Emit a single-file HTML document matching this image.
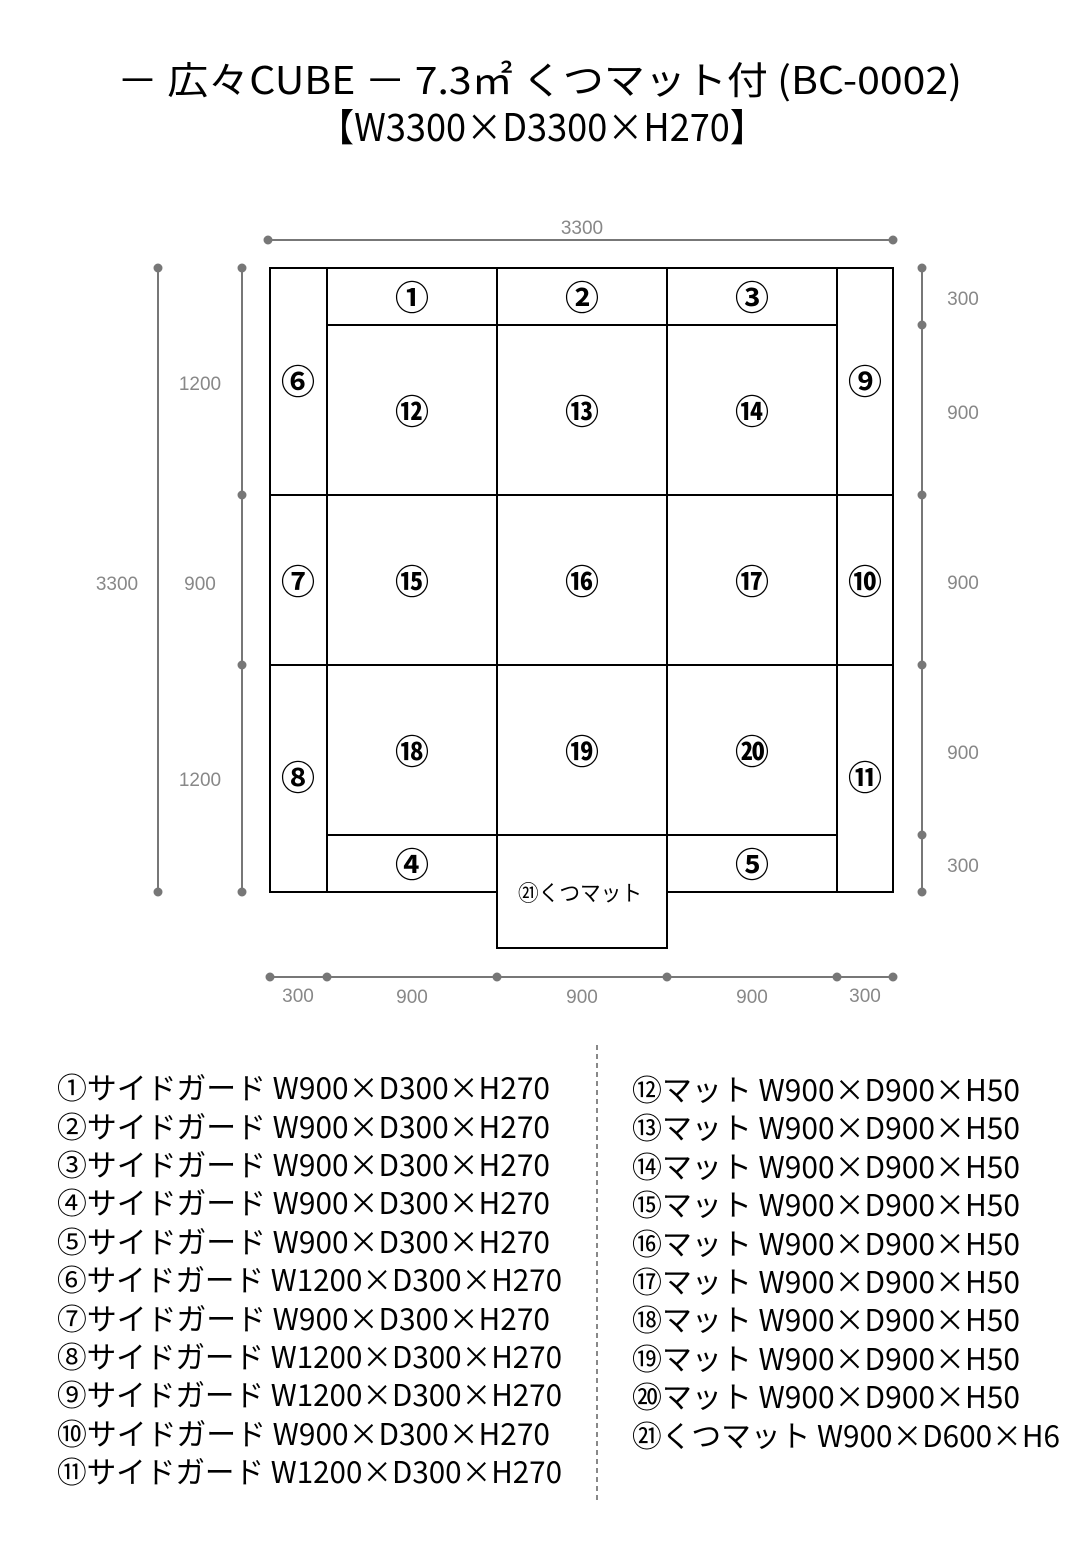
<!DOCTYPE html>
<html><head><meta charset="utf-8"><style>
html,body{margin:0;padding:0;background:#fff}
svg{display:block}
.t{font-family:"Liberation Sans","Noto Sans CJK JP",sans-serif}
</style></head><body>
<svg width="1080" height="1560" viewBox="0 0 1080 1560" xmlns="http://www.w3.org/2000/svg" class="t">
<g fill="#000" font-family="Noto Sans CJK JP, sans-serif">
<text x="117" y="94" font-size="38" textLength="845" lengthAdjust="spacingAndGlyphs">－ 広々CUBE － 7.3㎡ くつマット付 (BC-0002)</text>
<text x="318" y="141" font-size="38" textLength="448" lengthAdjust="spacingAndGlyphs">【W3300×D3300×H270】</text>
</g>
<g stroke="#777" stroke-width="2" fill="#777">
<line x1="268" y1="240" x2="893" y2="240"/><circle cx="268" cy="240" r="3.5"/><circle cx="893" cy="240" r="3.5"/>
<line x1="158" y1="268" x2="158" y2="892"/><circle cx="158" cy="268" r="3.5"/><circle cx="158" cy="892" r="3.5"/>
<line x1="242" y1="268" x2="242" y2="892"/>
<circle cx="242" cy="268" r="3.5"/><circle cx="242" cy="495" r="3.5"/><circle cx="242" cy="665" r="3.5"/><circle cx="242" cy="892" r="3.5"/>
<line x1="922" y1="268" x2="922" y2="892"/>
<circle cx="922" cy="268" r="3.5"/><circle cx="922" cy="325" r="3.5"/><circle cx="922" cy="495" r="3.5"/><circle cx="922" cy="665" r="3.5"/><circle cx="922" cy="835" r="3.5"/><circle cx="922" cy="892" r="3.5"/>
<line x1="270" y1="977" x2="893" y2="977"/>
<circle cx="270" cy="977" r="3.5"/><circle cx="327" cy="977" r="3.5"/><circle cx="497" cy="977" r="3.5"/><circle cx="667" cy="977" r="3.5"/><circle cx="837" cy="977" r="3.5"/><circle cx="893" cy="977" r="3.5"/>
</g>
<g fill="#888" font-size="19" text-anchor="middle">
<text x="582" y="234">3300</text>
<text x="117" y="590">3300</text>
<text x="200" y="390">1200</text><text x="200" y="590">900</text><text x="200" y="786">1200</text>
<text x="963" y="305">300</text><text x="963" y="419">900</text><text x="963" y="589">900</text><text x="963" y="759">900</text><text x="963" y="872">300</text>
<text x="298" y="1002">300</text><text x="412" y="1003">900</text><text x="582" y="1003">900</text><text x="752" y="1003">900</text><text x="865" y="1002">300</text>
</g>
<g fill="none" stroke="#000" stroke-width="2">
<rect x="270" y="268" width="623" height="624"/>
<line x1="327" y1="268" x2="327" y2="892"/><line x1="837" y1="268" x2="837" y2="892"/>
<line x1="327" y1="325" x2="837" y2="325"/><line x1="327" y1="835" x2="837" y2="835"/>
<line x1="497" y1="268" x2="497" y2="835"/><line x1="667" y1="268" x2="667" y2="835"/>
<line x1="270" y1="495" x2="893" y2="495"/><line x1="270" y1="665" x2="893" y2="665"/>
<rect x="497" y="835" width="170" height="113" fill="#fff"/>
</g>
<g fill="#000" font-size="34" font-weight="bold" text-anchor="middle" font-family="Noto Sans CJK JP, sans-serif">
<text x="412" y="310">①</text><text x="582" y="310">②</text><text x="752" y="310">③</text>
<text x="412" y="877">④</text><text x="752" y="877">⑤</text>
<text x="298" y="394">⑥</text><text x="298" y="594">⑦</text><text x="298" y="790">⑧</text>
<text x="865" y="394">⑨</text><text x="865" y="594">⑩</text><text x="865" y="790">⑪</text>
<text x="412" y="424">⑫</text><text x="582" y="424">⑬</text><text x="752" y="424">⑭</text>
<text x="412" y="594">⑮</text><text x="582" y="594">⑯</text><text x="752" y="594">⑰</text>
<text x="412" y="764">⑱</text><text x="582" y="764">⑲</text><text x="752" y="764">⑳</text>
</g>
<text x="518" y="901" font-size="22" textLength="124" lengthAdjust="spacingAndGlyphs" font-family="Noto Sans CJK JP, sans-serif">㉑くつマット</text>
<line x1="597" y1="1045" x2="597" y2="1500" stroke="#888" stroke-width="2" stroke-dasharray="5,4"/>
<g fill="#000" font-size="30" font-family="Noto Sans CJK JP, sans-serif">
<text x="57" y="1099" textLength="493" lengthAdjust="spacingAndGlyphs">①サイドガード W900×D300×H270</text>
<text x="57" y="1138" textLength="493" lengthAdjust="spacingAndGlyphs">②サイドガード W900×D300×H270</text>
<text x="57" y="1176" textLength="493" lengthAdjust="spacingAndGlyphs">③サイドガード W900×D300×H270</text>
<text x="57" y="1214" textLength="493" lengthAdjust="spacingAndGlyphs">④サイドガード W900×D300×H270</text>
<text x="57" y="1253" textLength="493" lengthAdjust="spacingAndGlyphs">⑤サイドガード W900×D300×H270</text>
<text x="57" y="1291" textLength="505" lengthAdjust="spacingAndGlyphs">⑥サイドガード W1200×D300×H270</text>
<text x="57" y="1330" textLength="493" lengthAdjust="spacingAndGlyphs">⑦サイドガード W900×D300×H270</text>
<text x="57" y="1368" textLength="505" lengthAdjust="spacingAndGlyphs">⑧サイドガード W1200×D300×H270</text>
<text x="57" y="1406" textLength="505" lengthAdjust="spacingAndGlyphs">⑨サイドガード W1200×D300×H270</text>
<text x="57" y="1445" textLength="493" lengthAdjust="spacingAndGlyphs">⑩サイドガード W900×D300×H270</text>
<text x="57" y="1483" textLength="505" lengthAdjust="spacingAndGlyphs">⑪サイドガード W1200×D300×H270</text>
<text x="632" y="1101" textLength="388" lengthAdjust="spacingAndGlyphs">⑫マット W900×D900×H50</text>
<text x="632" y="1139" textLength="388" lengthAdjust="spacingAndGlyphs">⑬マット W900×D900×H50</text>
<text x="632" y="1178" textLength="388" lengthAdjust="spacingAndGlyphs">⑭マット W900×D900×H50</text>
<text x="632" y="1216" textLength="388" lengthAdjust="spacingAndGlyphs">⑮マット W900×D900×H50</text>
<text x="632" y="1255" textLength="388" lengthAdjust="spacingAndGlyphs">⑯マット W900×D900×H50</text>
<text x="632" y="1293" textLength="388" lengthAdjust="spacingAndGlyphs">⑰マット W900×D900×H50</text>
<text x="632" y="1331" textLength="388" lengthAdjust="spacingAndGlyphs">⑱マット W900×D900×H50</text>
<text x="632" y="1370" textLength="388" lengthAdjust="spacingAndGlyphs">⑲マット W900×D900×H50</text>
<text x="632" y="1408" textLength="388" lengthAdjust="spacingAndGlyphs">⑳マット W900×D900×H50</text>
<text x="632" y="1447" textLength="428" lengthAdjust="spacingAndGlyphs">㉑くつマット W900×D600×H6</text>
</g>
</svg>
</body></html>
